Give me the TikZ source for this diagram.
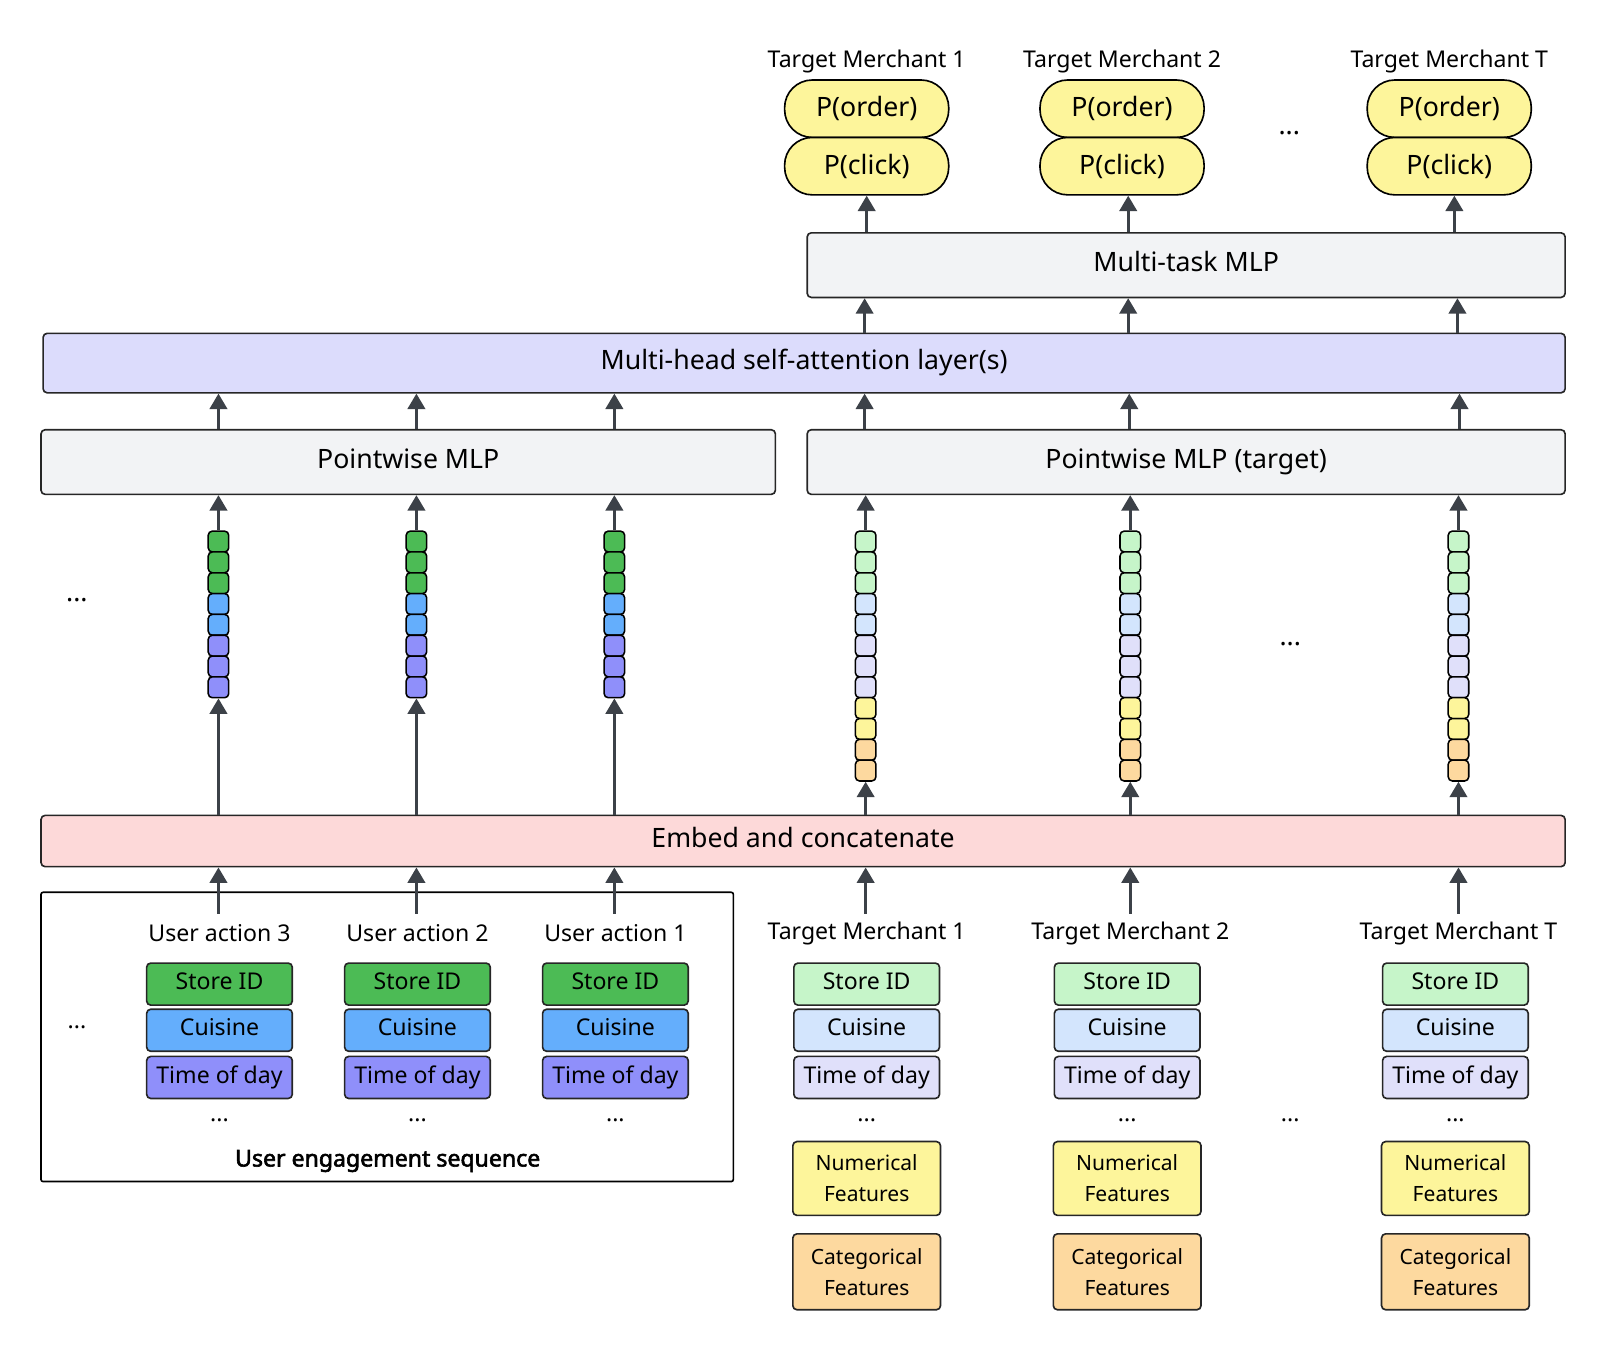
\documentclass[tikz,border=0pt]{standalone}
\usepackage{fontspec}
\usetikzlibrary{arrows.meta}
\setmainfont{Noto Sans}
\newfontfamily\nsbold[FakeBold=2.5]{Noto Sans}
\begin{document}
\begin{tikzpicture}[x=1pt,y=-1pt,
  box/.style={draw=black!85,line width=1.6pt,rounded corners=4pt,inner sep=0pt,anchor=center},
  big/.style={font=\fontsize{26}{30}\selectfont,text height=18pt,text depth=5pt},
  lab/.style={font=\fontsize{22.5}{26}\selectfont},
  small/.style={font=\fontsize{20.5}{30}\selectfont,align=center},
  pill/.style={draw=black,line width=1.6pt,fill=pyel,rounded corners=27pt,minimum width=160pt,minimum height=56pt,font=\fontsize{26}{30}\selectfont},
  cell/.style={draw=black,line width=1.5pt,rounded corners=4pt,minimum width=20pt,minimum height=20.3pt,inner sep=0pt},
  feat/.style={box,minimum width=142pt,minimum height=41pt,font=\fontsize{22.5}{26}\selectfont,text height=16pt,text depth=5pt},
  arr/.style={draw=arrc,line width=2.6pt,-{Triangle[length=15pt,width=17pt]}},
]
\definecolor{arrc}{HTML}{3C4148}
\definecolor{gbox}{HTML}{F2F3F5}
\definecolor{attn}{HTML}{DCDCFC}
\definecolor{emb}{HTML}{FDD9D9}
\definecolor{ug}{HTML}{4CBB55}
\definecolor{ub}{HTML}{64AEFC}
\definecolor{up}{HTML}{8F8FFA}
\definecolor{tg}{HTML}{C6F5C9}
\definecolor{tb}{HTML}{D3E5FD}
\definecolor{tp}{HTML}{E0E0FA}
\definecolor{pyel}{HTML}{FDF59B}
\definecolor{tor}{HTML}{FDD99F}
\useasboundingbox (0,0) rectangle (1560,1311);
% main boxes
\node[box,fill=gbox,minimum width=739pt,minimum height=63pt,big] (mt) at (1156.5,258.5) {Multi-task MLP};
\node[box,fill=attn,minimum width=1484pt,minimum height=58pt,big] (att) at (784,354) {Multi-head self-attention layer(s)};
\node[box,fill=gbox,minimum width=716pt,minimum height=63pt,big] (pw) at (398,450.5) {Pointwise MLP};
\node[box,fill=gbox,minimum width=739pt,minimum height=63pt,big] (pwt) at (1156.5,450.5) {Pointwise MLP (target)};
\node[box,fill=emb,minimum width=1486pt,minimum height=50pt,big] (emb) at (783,820) {Embed and concatenate};
\node[draw=black,line width=1.6pt,rounded corners=2pt,minimum width=675pt,minimum height=282pt,inner sep=0pt] (ues) at (377.5,1011) {};
\node[font=\fontsize{22.5}{26}\nsbold] (uesl) at (378,1132) {User engagement sequence};
% top pills
\foreach \i/\x/\t in {1/845/1,2/1094/2,3/1413/T}{
  \node[lab] (tl\i) at (\x,60) {Target Merchant \t};
  \node[pill] (po\i) at (\x,106) {P(order)};
  \node[pill] (pc\i) at (\x,162) {P(click)};
}
\node[big] (d1) at (1257,125) {...};
% arrows into pills
\foreach \i/\x in {1/845,2/1100,3/1418}{
  \draw[arr] (mt.north -| \x,0) -- (pc\i.south -| \x,0);
}
\foreach \x in {843,1100,1421}{
  \draw[arr] (att.north -| \x,0) -- (mt.south -| \x,0);
}
\foreach \x in {213,406,599,843,1101,1423}{
  \draw[arr] (pw.north -| \x,0) -- (att.south -| \x,0);
}
% user columns
\foreach \c/\x in {1/213,2/406,3/599}{
  \foreach \k/\col in {1/ug,2/ug,3/ug,4/ub,5/ub,6/up,7/up,8/up}{
    \node[cell,fill=\col] (u\c-\k) at (\x,{528+(\k-1)*20.3}) {};
  }
  \draw[arr] (u\c-1.north) -- (u\c-1.north |- pw.south);
  \draw[arr] (emb.north -| u\c-8) -- (u\c-8.south);
  \coordinate (ust\c) at (\x,891);
  \draw[arr] (ust\c) -- (emb.south -| ust\c);
}
% target columns
\foreach \c/\x in {1/844,2/1102,3/1422}{
  \foreach \k/\col in {1/tg,2/tg,3/tg,4/tb,5/tb,6/tp,7/tp,8/tp,9/pyel,10/pyel,11/tor,12/tor}{
    \node[cell,fill=\col] (t\c-\k) at (\x,{528+(\k-1)*20.3}) {};
  }
  \draw[arr] (t\c-1.north) -- (t\c-1.north |- pwt.south);
  \draw[arr] (emb.north -| t\c-12) -- (t\c-12.south);
  \coordinate (ts\c) at (\x,891);
  \draw[arr] (ts\c) -- (emb.south -| ts\c);
}
\node[big] (d2) at (75,580) {...};
\node[big] (d3) at (1258,623) {...};
% user actions
\foreach \c/\x/\n in {1/214/3,2/407/2,3/600/1}{
  \node[lab] (ua\c) at (\x,910) {User action \n};
  \node[feat,fill=ug] (us\c) at (\x,959.5) {Store ID};
  \node[feat,fill=ub] (uc\c) at (\x,1004.5) {Cuisine};
  \node[feat,fill=up] (ut\c) at (\x,1050.5) {Time of day};
  \node[lab] (ud\c) at (\x,1092) {...};
}
\node[lab] (d4) at (75,1002) {...};
% targets
\foreach \c/\x/\lx/\n in {1/845/845/1,2/1099/1102/2,3/1419/1422/T}{
  \node[lab] (tt\c) at (\lx,910) {Target Merchant \n};
  \node[feat,fill=tg] (tsi\c) at (\x,959.5) {Store ID};
  \node[feat,fill=tb] (tc\c) at (\x,1004.5) {Cuisine};
  \node[feat,fill=tp] (ttd\c) at (\x,1050.5) {Time of day};
  \node[lab] (tdd\c) at (\x,1092) {...};
  \node[box,fill=pyel,minimum width=144pt,minimum height=72pt,small] (nf\c) at (\x,1149) {Numerical\\Features};
  \node[box,fill=tor,minimum width=144pt,minimum height=74pt,small] (cf\c) at (\x,1240) {Categorical\\Features};
}
\node[lab] (d5) at (1258,1092) {...};
\end{tikzpicture}
\end{document}
